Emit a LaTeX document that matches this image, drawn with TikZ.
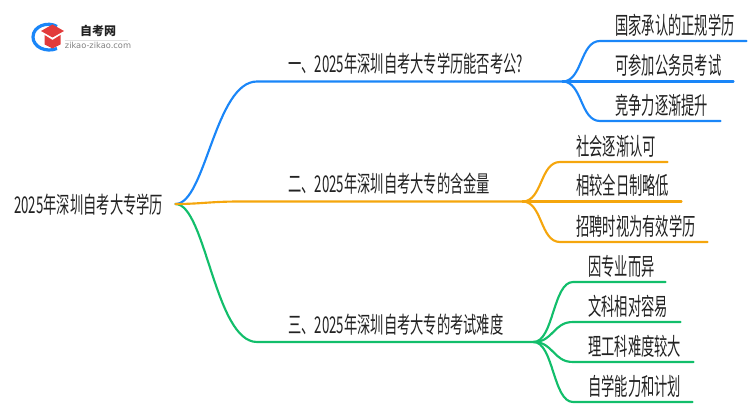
\documentclass[tikz,border=0pt]{standalone}
\usepackage{fontspec}
\setmainfont[FakeStretch=0.575]{Noto Sans CJK SC}
\newfontfamily\leaffont[FakeStretch=0.553]{Noto Sans CJK SC}
\newfontfamily\logofont{Noto Sans CJK SC}
\newfontfamily\urlfont{DejaVu Sans}
\definecolor{bluel}{HTML}{1A86F8}
\definecolor{orangel}{HTML}{F5A60D}
\definecolor{greenl}{HTML}{12BE6B}
\definecolor{inkc}{HTML}{222222}
\definecolor{capred}{HTML}{E23B3B}
\tikzset{
  lab/.style 2 args={anchor=south west,inner xsep=0pt,inner ysep=6.2pt,text depth=0pt,text height=14pt,
    font=\fontsize{17.3pt}{19pt}\selectfont,text=inkc,align=left,text width=#1*0.75pt,
    execute at begin node={\hspace*{0.75\dimexpr #2pt\relax}}},
  leaf/.style 2 args={lab={#1}{#2},inner ysep=5pt,font=\leaffont\fontsize{18pt}{20pt}\selectfont},
  link/.style={line width=1.6pt,line cap=round},
  bluelink/.style={link,draw=bluel},
  orangelink/.style={link,draw=orangel},
  greenlink/.style={link,draw=greenl},
}
\begin{document}
\begin{tikzpicture}[x=0.75pt,y=-0.75pt]
\useasboundingbox (0,0) rectangle (750,410);
% logo
\draw[line width=2.4pt,draw=bluel] (57,26.5) .. controls (48,21) and (33,26) .. (33,37) .. controls (33,47) and (46,53) .. (57,48.5);
\fill[capred] (52.5,24.5) -- (64,31) -- (52.5,37.5) -- (41,31) -- cycle;
\fill[capred] (44.5,35) -- (52.5,40) -- (60.5,35) -- (60.5,44.5) -- (52.5,48.5) -- (44.5,44.5) -- cycle;
\node[inner sep=0pt,font=\logofont\bfseries\fontsize{9pt}{10pt}\selectfont,text=inkc] (logoname) at (98,31) {自考网};
\node[inner sep=0pt,font=\urlfont\fontsize{6.2pt}{7pt}\selectfont,text=gray] (logourl) at (98,45) {zikao-zikao.com};
\draw[line width=0.5pt,draw=black!12] (logourl.north west) ++(0,-1) -- ++(63,0);
% root
\node[anchor=west,inner sep=0pt,text depth=0pt,text height=14.25pt,text width=161*0.75pt,align=left,
  font=\fontsize{17.3pt}{19pt}\selectfont,text=inkc] (root) at (14,204) {2025年深圳自考大专学历};
% branches
\node[lab={305}{31}] (b1) at (257,81.5) {一、2025年深圳自考大专学历能否考公?};
\node[lab={282}{48}] (b2) at (240,201.5) {二、2025年深圳自考大专的含金量};
\node[lab={276}{31}] (b3) at (257,342) {三、2025年深圳自考大专的考试难度};
% leaves
\node[leaf={146}{15}] (a1) at (600,41) {国家承认的正规学历};
\node[leaf={171}{53}] (a2) at (562,81.5) {可参加公务员考试};
\node[leaf={120}{15}] (a3) at (600,121) {竞争力逐渐提升};
\node[leaf={107}{16}] (c1) at (560,162) {社会逐渐认可};
\node[leaf={159}{54}] (c2) at (522,201.5) {相较全日制略低};
\node[leaf={147}{16}] (c3) at (560,242) {招聘时视为有效学历};
\node[leaf={92}{15}] (d1) at (573,282) {因专业而异};
\node[leaf={107}{15}] (d2) at (573,322) {文科相对容易};
\node[leaf={120}{15}] (d3) at (573,362) {理工科难度较大};
\node[leaf={119}{15}] (d4) at (573,402) {自学能力和计划};
% connectors
\draw[bluelink] (root.east) .. controls +(30,0) and +(-42,0) .. (b1.south west) -- (b1.south east);
\draw[greenlink] (root.east) .. controls +(30,0) and +(-42,0) .. (b3.south west) -- (b3.south east);
\draw[orangelink] (root.east) .. controls +(25,0) and +(-30,0) .. (b2.south west) -- (b2.south east);
\draw[bluelink] (b1.south east) .. controls +(20,0) and +(-20,0) .. (a1.south west) -- (a1.south east);
\draw[bluelink] (b1.south east) -- (a2.south east);
\draw[bluelink] (b1.south east) .. controls +(20,0) and +(-20,0) .. (a3.south west) -- (a3.south east);
\draw[orangelink] (b2.south east) .. controls +(20,0) and +(-20,0) .. (c1.south west) -- (c1.south east);
\draw[orangelink] (b2.south east) -- (c2.south east);
\draw[orangelink] (b2.south east) .. controls +(20,0) and +(-20,0) .. (c3.south west) -- (c3.south east);
\draw[greenlink] (b3.south east) .. controls +(20,0) and +(-20,0) .. (d1.south west) -- (d1.south east);
\draw[greenlink] (b3.south east) .. controls +(20,0) and +(-20,0) .. (d2.south west) -- (d2.south east);
\draw[greenlink] (b3.south east) .. controls +(20,0) and +(-20,0) .. (d3.south west) -- (d3.south east);
\draw[greenlink] (b3.south east) .. controls +(20,0) and +(-20,0) .. (d4.south west) -- (d4.south east);
\end{tikzpicture}
\end{document}
